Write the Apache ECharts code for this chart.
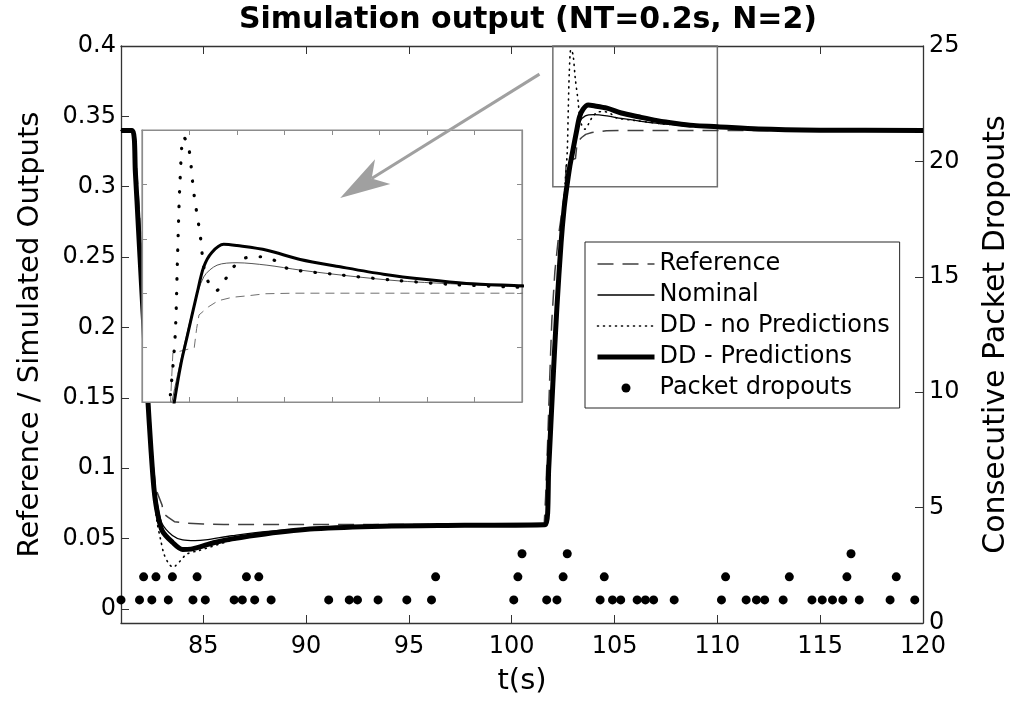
<!DOCTYPE html>
<html>
<head>
<meta charset="utf-8">
<title>Simulation output</title>
<script src="https://cdn.jsdelivr.net/npm/echarts@6/dist/echarts.min.js"></script>
<style>
  html, body { margin: 0; padding: 0; background: #fff; }
  #chart { width: 1019px; height: 704px; }
</style>
</head>
<body>
<div id="chart"></div>
<script>
// ---- data: [t (s), output] ----
var reference = [
  [81, 0.34], [81.6, 0.34], [81.75, 0.315], [81.9, 0.28], [82.0, 0.25], [82.2, 0.19], [82.4, 0.14],
  [82.5, 0.11], [82.7, 0.085], [83.0, 0.0736], [83.05, 0.068], [83.3, 0.065], [83.6, 0.062],
  [84.2, 0.061], [85, 0.0603], [86, 0.06], [101.58, 0.06], [101.65, 0.08], [101.75, 0.12],
  [101.85, 0.165], [101.95, 0.205], [102.1, 0.24], [102.3, 0.268], [102.5, 0.288], [102.6, 0.30],
  [102.65, 0.318], [103.1, 0.32], [103.15, 0.327], [103.2, 0.332], [103.4, 0.335], [103.6, 0.3372],
  [103.9, 0.3385], [104.2, 0.339], [104.6, 0.3398], [105.2, 0.34], [120, 0.34]
];
var nominal = [
  [81, 0.34], [81.55, 0.34], [81.7, 0.31], [81.85, 0.27], [82.0, 0.23], [82.15, 0.19], [82.3, 0.15],
  [82.45, 0.118], [82.6, 0.092], [82.8, 0.072], [83.0, 0.0605], [83.5, 0.0522], [84.0, 0.049],
  [84.6, 0.0485], [85.1, 0.049], [86.4, 0.052], [88.0, 0.055], [91.2, 0.058], [96, 0.0594],
  [101.65, 0.06], [101.8, 0.1], [102.0, 0.16], [102.2, 0.215], [102.4, 0.262], [102.55, 0.29],
  [102.63, 0.30], [102.88, 0.3202], [103.09, 0.335], [103.3, 0.346], [103.58, 0.3503], [104.0, 0.3512],
  [104.63, 0.3503], [105.33, 0.3485], [106.38, 0.3463], [107.43, 0.3445], [108.83, 0.3432],
  [110, 0.3423], [112, 0.3408], [115, 0.3401], [120, 0.34]
];
var ddNoPred = [
  [81, 0.34], [81.55, 0.34], [81.7, 0.31], [81.85, 0.27], [82.0, 0.23], [82.15, 0.19], [82.3, 0.15],
  [82.45, 0.112], [82.6, 0.082], [82.75, 0.062], [82.93, 0.049], [83.09, 0.039], [83.33, 0.032],
  [83.55, 0.0295], [83.66, 0.0308], [83.9, 0.0344], [84.2, 0.039], [84.8, 0.0415], [86.4, 0.0487],
  [88, 0.0533], [90.4, 0.0569], [93.7, 0.0588], [97.7, 0.0594], [101.65, 0.06], [101.8, 0.1],
  [102.0, 0.16], [102.2, 0.215], [102.4, 0.265], [102.6, 0.303], [102.7, 0.325], [102.75, 0.3546],
  [102.8, 0.381], [102.875, 0.3975], [102.98, 0.394], [103.09, 0.377], [103.23, 0.3607],
  [103.3, 0.3497], [103.4, 0.344], [103.56, 0.3409], [103.75, 0.345], [103.93, 0.3497],
  [104.18, 0.353], [104.5, 0.3534], [104.8, 0.352], [105.08, 0.349], [106.03, 0.347],
  [107.29, 0.3448], [108.55, 0.3432], [109.8, 0.3423], [112, 0.3408], [115, 0.3401], [120, 0.34]
];
var ddPred = [
  [81, 0.34], [81.55, 0.34], [81.7, 0.31], [81.85, 0.27], [82.0, 0.23], [82.15, 0.19], [82.3, 0.15],
  [82.45, 0.115], [82.6, 0.086], [82.75, 0.07], [83.0, 0.0557], [83.5, 0.0474], [84.0, 0.0422],
  [84.4, 0.0425], [84.8, 0.0439], [85.5, 0.047], [86.4, 0.0498], [88, 0.0533], [90.4, 0.0569],
  [93.7, 0.0588], [97.7, 0.0594], [101.65, 0.06], [101.8, 0.1], [102.0, 0.16], [102.2, 0.215],
  [102.4, 0.26], [102.55, 0.285], [102.68, 0.30], [102.82, 0.314], [102.95, 0.324], [103.16, 0.34],
  [103.3, 0.3497], [103.47, 0.355], [103.72, 0.358], [104.0, 0.3575], [104.63, 0.3558],
  [105.33, 0.3524], [106.17, 0.3497], [107.08, 0.347], [107.99, 0.345], [108.83, 0.3436],
  [110, 0.3427], [112, 0.341], [115, 0.3402], [120, 0.34]
];

// packet dropouts: time and number of consecutive dropouts
var dropT = [
  81.0, 81.9, 82.5, 83.3, 84.5, 85.1, 86.5, 86.9, 87.5, 88.3, 91.1, 92.1, 92.5, 93.5, 94.9, 96.1,
  100.1, 101.7, 102.2, 104.3, 104.9, 105.3, 106.1, 106.5, 106.9, 107.9, 110.2, 111.4, 111.9, 112.3,
  113.2, 114.6, 115.1, 115.6, 116.1, 116.9, 118.4, 119.6,
  82.1, 82.7, 83.5, 84.7, 87.1, 87.7, 96.3, 100.3, 102.5, 104.5, 110.4, 113.5, 116.3, 118.7,
  100.5, 102.7, 116.5
];
var dropN = [
  1, 1, 1, 1, 1, 1, 1, 1, 1, 1, 1, 1, 1, 1, 1, 1,
  1, 1, 1, 1, 1, 1, 1, 1, 1, 1, 1, 1, 1, 1,
  1, 1, 1, 1, 1, 1, 1, 1,
  2, 2, 2, 2, 2, 2, 2, 2, 2, 2, 2, 2, 2, 2,
  3, 3, 3
];

var xTicks = [85, 90, 95, 100, 105, 110, 115, 120];
var yTicks = [0, 0.05, 0.1, 0.15, 0.2, 0.25, 0.3, 0.35, 0.4];
var zoomBox = [102, 110, 0.3, 0.4];      // t range, output range of the magnified part
var arrowFrom = [101.35, 0.38];
var arrowTo = [91.66, 0.292];

var names = ['Reference', 'Nominal', 'DD - no Predictions', 'DD - Predictions', 'Packet dropouts'];

var dropouts = dropT.map(function (t, i) { return [t, dropN[i]]; });

var FONT = 'DejaVu Sans';
var AX = '#333333';
var INSET = '#8c8c8c';

var chart = echarts.init(document.getElementById('chart'));

function mainLine(name, data, style, smooth) {
  return {
    name: name, type: 'line', xAxisIndex: 0, yAxisIndex: 0, data: data,
    symbol: 'none', smooth: smooth, lineStyle: style, z: 2, silent: true
  };
}
function insetLine(name, data, style, smooth) {
  return {
    name: name, type: 'line', xAxisIndex: 2, yAxisIndex: 2, data: data,
    symbol: 'none', smooth: smooth, lineStyle: style, z: 7, silent: true
  };
}

var refMain = mainLine(names[0], reference, { color: '#404040', width: 1.5, type: [16, 9] }, false);
refMain.markArea = {
  silent: true,
  itemStyle: { color: 'rgba(0,0,0,0)', borderColor: '#707070', borderWidth: 1.5 },
  data: [[{ xAxis: zoomBox[0], yAxis: zoomBox[2] }, { xAxis: zoomBox[1], yAxis: zoomBox[3] }]]
};

var option = {
  animation: false,
  backgroundColor: '#fff',
  textStyle: { fontFamily: FONT },
  title: {
    text: 'Simulation output (NT=0.2s, N=2)',
    left: 523, top: 0, textAlign: 'center',
    textStyle: { fontFamily: FONT, fontWeight: 'bold', fontSize: 30, color: '#000' }
  },
  legend: {
    orient: 'vertical',
    left: 585, top: 242,
    backgroundColor: '#fff',
    borderColor: '#262626', borderWidth: 1, borderRadius: 0,
    padding: [10, 10, 8, 10],
    itemWidth: 57, itemHeight: 9, itemGap: 7, itemTextGap: 10,
    textStyle: { fontFamily: FONT, fontSize: 24, color: '#000', lineHeight: 24 },
    data: [
      { name: names[0], itemStyle: { opacity: 0 }, lineStyle: { width: 1.5 } },
      { name: names[1], itemStyle: { opacity: 0 }, lineStyle: { width: 1.3 } },
      { name: names[2], itemStyle: { opacity: 0 }, lineStyle: { width: 1.6 } },
      { name: names[3], itemStyle: { opacity: 0 }, lineStyle: { width: 5 } },
      { name: names[4], icon: 'circle', itemStyle: { opacity: 1, color: '#000' } }
    ],
    selectedMode: false
  },
  grid: [
    { left: 121, top: 46, width: 804.5, height: 577, show: false },
    { left: 142, top: 130, width: 380, height: 272, show: true, z: 5,
      backgroundColor: '#fff', borderColor: INSET, borderWidth: 1.2 }
  ],
  xAxis: [
    {
      type: 'value', gridIndex: 0, min: 81, max: 120, position: 'bottom',
      name: 't(s)', nameLocation: 'middle', nameGap: 44,
      nameTextStyle: { fontFamily: FONT, fontSize: 29, color: '#000' },
      axisLine: { onZero: false, lineStyle: { color: AX, width: 1.3 } },
      axisTick: { inside: true, length: 8, customValues: xTicks, lineStyle: { color: AX } },
      axisLabel: { customValues: xTicks, margin: 12, fontSize: 24, color: '#000', fontFamily: FONT },
      splitLine: { show: false }
    },
    {
      type: 'value', gridIndex: 0, min: 81, max: 120, position: 'top',
      axisLine: { onZero: false, lineStyle: { color: AX, width: 1.3 } },
      axisTick: { inside: true, length: 8, customValues: xTicks, lineStyle: { color: AX } },
      axisLabel: { show: false },
      splitLine: { show: false }
    },
    {
      type: 'value', gridIndex: 1, min: zoomBox[0], max: zoomBox[1], interval: 1, position: 'bottom', z: 6,
      axisLine: { onZero: false, lineStyle: { color: INSET, width: 1.2 } },
      axisTick: { inside: true, length: 5, lineStyle: { color: INSET } },
      axisLabel: { show: false }, splitLine: { show: false }
    },
    {
      type: 'value', gridIndex: 1, min: zoomBox[0], max: zoomBox[1], interval: 1, position: 'top', z: 6,
      axisLine: { onZero: false, lineStyle: { color: INSET, width: 1.2 } },
      axisTick: { inside: true, length: 5, lineStyle: { color: INSET } },
      axisLabel: { show: false }, splitLine: { show: false }
    }
  ],
  yAxis: [
    {
      type: 'value', gridIndex: 0, min: -0.01, max: 0.4, position: 'left',
      name: 'Reference / Simulated Outputs', nameLocation: 'middle', nameGap: 76, nameRotate: 90,
      nameTextStyle: { fontFamily: FONT, fontSize: 29, color: '#000' },
      axisLine: { show: true, onZero: false, lineStyle: { color: AX, width: 1.3 } },
      axisTick: { show: true, inside: true, length: 8, customValues: yTicks, lineStyle: { color: AX } },
      axisLabel: { customValues: yTicks, margin: 5, fontSize: 24, color: '#000', fontFamily: FONT,
        formatter: function (v) { return String(+v.toFixed(3)); } },
      splitLine: { show: false }
    },
    {
      type: 'value', gridIndex: 0, min: 0, max: 25, interval: 5, position: 'right',
      name: 'Consecutive Packet Dropouts', nameLocation: 'middle', nameGap: 58, nameRotate: 90,
      nameTextStyle: { fontFamily: FONT, fontSize: 30, color: '#000' },
      axisLine: { show: true, onZero: false, lineStyle: { color: AX, width: 1.3 } },
      axisTick: { show: true, inside: true, length: 8, lineStyle: { color: AX } },
      axisLabel: { margin: 6, fontSize: 24, color: '#000', fontFamily: FONT },
      splitLine: { show: false }
    },
    {
      type: 'value', gridIndex: 1, min: zoomBox[2], max: zoomBox[3], interval: 0.02, position: 'left', z: 6,
      axisLine: { show: true, onZero: false, lineStyle: { color: INSET, width: 1.2 } },
      axisTick: { show: true, inside: true, length: 5, lineStyle: { color: INSET } },
      axisLabel: { show: false }, splitLine: { show: false }
    },
    {
      type: 'value', gridIndex: 1, min: zoomBox[2], max: zoomBox[3], interval: 0.02, position: 'right', z: 6,
      axisLine: { show: true, onZero: false, lineStyle: { color: INSET, width: 1.2 } },
      axisTick: { show: true, inside: true, length: 5, lineStyle: { color: INSET } },
      axisLabel: { show: false }, splitLine: { show: false }
    }
  ],
  series: [
    refMain,
    mainLine(names[1], nominal, { color: '#000', width: 1.3 }, 0.3),
    mainLine(names[2], ddNoPred, { color: '#000', width: 1.6, type: [1, 5], cap: 'round' }, 0.3),
    mainLine(names[3], ddPred, { color: '#000', width: 5 }, 0.3),
    {
      name: names[4], type: 'scatter', xAxisIndex: 0, yAxisIndex: 1, data: dropouts,
      symbol: 'circle', symbolSize: 9, itemStyle: { color: '#000', opacity: 1 }, z: 3, silent: true
    },
    insetLine(names[0], reference, { color: '#707070', width: 1, type: [9, 6] }, false),
    insetLine(names[1], nominal, { color: '#555', width: 1 }, 0.3),
    insetLine(names[2], ddNoPred, { color: '#000', width: 3.2, type: [0.5, 14], cap: 'round' }, 0.3),
    insetLine(names[3], ddPred, { color: '#000', width: 3 }, 0.3)
  ]
};

chart.setOption(option);

// grey arrow pointing from the zoom box towards the magnified view
var p0 = chart.convertToPixel({ xAxisIndex: 0, yAxisIndex: 0 }, arrowFrom);
var p1 = chart.convertToPixel({ xAxisIndex: 0, yAxisIndex: 0 }, arrowTo);
var dx = p1[0] - p0[0], dy = p1[1] - p0[1];
var len = Math.sqrt(dx * dx + dy * dy);
var ux = dx / len, uy = dy / len, nx = -uy, ny = ux;
function pt(back, side) {
  return [p1[0] - ux * back + nx * side, p1[1] - uy * back + ny * side];
}
var notch = pt(37, 0);
chart.setOption({
  graphic: [
    { type: 'line', z: 100, silent: true,
      shape: { x1: p0[0], y1: p0[1], x2: notch[0], y2: notch[1] },
      style: { stroke: '#a0a0a0', lineWidth: 3 } },
    { type: 'polygon', z: 100, silent: true,
      shape: { points: [p1, pt(50, 14.5), notch, pt(50, -14.5)] },
      style: { fill: '#a0a0a0' } }
  ]
});
</script>
</body>
</html>
